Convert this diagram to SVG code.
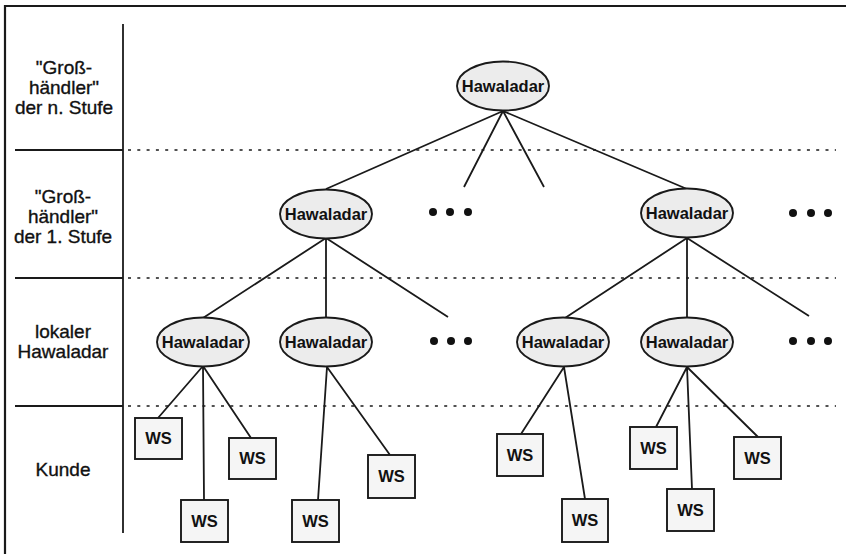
<svg xmlns="http://www.w3.org/2000/svg" width="846" height="554" viewBox="0 0 846 554">
<defs>
<style>
.frame{stroke:#1a1a1a;stroke-width:2.2;fill:none}
.sep{stroke:#1a1a1a;stroke-width:1.8;fill:none}
.dot{stroke:#1a1a1a;stroke-width:1.6;stroke-dasharray:3 6.3;fill:none}
.lbl{font-family:"Liberation Sans",Arial,sans-serif;font-size:19px;fill:#111;stroke:#111;stroke-width:0.35;text-anchor:middle}
.edge{stroke:#1a1a1a;stroke-width:1.8;fill:none}
.ell{fill:#ececec;stroke:#1a1a1a;stroke-width:1.9}
.box{fill:#f5f5f5;stroke:#1a1a1a;stroke-width:1.9}
.nt{font-family:"Liberation Sans",Arial,sans-serif;font-size:16.5px;font-weight:bold;fill:#111;text-anchor:middle}
.dots{fill:#111}
</style>
</defs>
<rect width="846" height="554" fill="#fff"/>
<g id="frame">
<path class="frame" d="M5,554 V6 H846"/>
<path class="sep" d="M123,24 V533"/>
<path class="sep" d="M15,150 H123 M15,278 H123 M15,406 H123"/>
<path class="dot" d="M128,150 H836 M128,278 H836 M128,406 H836"/>
</g>
<g id="labels">
<text class="lbl" x="64" y="74">"Groß-</text>
<text class="lbl" x="64" y="94">händler"</text>
<text class="lbl" x="64" y="114">der n. Stufe</text>
<text class="lbl" x="63" y="203">"Groß-</text>
<text class="lbl" x="63" y="223">händler"</text>
<text class="lbl" x="63" y="243">der 1. Stufe</text>
<text class="lbl" x="63" y="338">lokaler</text>
<text class="lbl" x="63" y="358">Hawaladar</text>
<text class="lbl" x="63" y="476">Kunde</text>
</g>
<g id="connectors">
<path class="edge" d="M503,111 L326,189 M503,111 L464,187 M503,111 L544,187 M503,111 L687,189"/>
<path class="edge" d="M326,238 L203,318 M326,238 L326,318 M326,238 L448,317"/>
<path class="edge" d="M687,238 L565,318 M687,238 L687,318 M687,238 L809,316"/>
<path class="edge" d="M203,366 L158,418 M203,366 L204,500 M203,366 L251,438"/>
<path class="edge" d="M327,367 L318,500 M327,367 L390,455"/>
<path class="edge" d="M564,367 L521,434 M564,367 L585,499"/>
<path class="edge" d="M687,367 L656,427 M687,367 L692,489 M687,367 L758,437"/>
</g>
<g id="n0"><ellipse class="ell" cx="503" cy="86" rx="46" ry="24.5"/><text class="nt" x="503" y="92">Hawaladar</text></g>
<g id="n1"><ellipse class="ell" cx="326" cy="214" rx="46" ry="24.5"/><text class="nt" x="326" y="220">Hawaladar</text></g>
<g id="n2"><ellipse class="ell" cx="687" cy="213" rx="46" ry="24.5"/><text class="nt" x="687" y="219">Hawaladar</text></g>
<g id="n3"><ellipse class="ell" cx="203" cy="342" rx="46" ry="24.5"/><text class="nt" x="203" y="348">Hawaladar</text></g>
<g id="n4"><ellipse class="ell" cx="326" cy="342" rx="46" ry="24.5"/><text class="nt" x="326" y="348">Hawaladar</text></g>
<g id="n5"><ellipse class="ell" cx="563" cy="342" rx="46" ry="24.5"/><text class="nt" x="563" y="348">Hawaladar</text></g>
<g id="n6"><ellipse class="ell" cx="687" cy="342" rx="46" ry="24.5"/><text class="nt" x="687" y="348">Hawaladar</text></g>
<g id="dots1" class="dots"><circle cx="433" cy="212" r="4"/><circle cx="450" cy="212" r="4"/><circle cx="468" cy="212" r="4"/></g>
<g id="dots2" class="dots"><circle cx="793" cy="213" r="4"/><circle cx="811" cy="213" r="4"/><circle cx="828" cy="213" r="4"/></g>
<g id="dots3" class="dots"><circle cx="434" cy="341" r="4"/><circle cx="451" cy="341" r="4"/><circle cx="468" cy="341" r="4"/></g>
<g id="dots4" class="dots"><circle cx="793" cy="341" r="4"/><circle cx="811" cy="341" r="4"/><circle cx="828" cy="341" r="4"/></g>
<g id="ws1"><rect class="box" x="135" y="418" width="47" height="41"/><text class="nt" x="158.5" y="444">WS</text></g>
<g id="ws2"><rect class="box" x="229" y="438" width="47" height="41"/><text class="nt" x="252.5" y="464">WS</text></g>
<g id="ws3"><rect class="box" x="181" y="500" width="47" height="42"/><text class="nt" x="204.5" y="527">WS</text></g>
<g id="ws4"><rect class="box" x="292" y="500" width="47" height="42"/><text class="nt" x="315.5" y="527">WS</text></g>
<g id="ws5"><rect class="box" x="368" y="455" width="47" height="43"/><text class="nt" x="391.5" y="482">WS</text></g>
<g id="ws6"><rect class="box" x="497" y="434" width="46" height="42"/><text class="nt" x="520" y="461">WS</text></g>
<g id="ws7"><rect class="box" x="562" y="499" width="46" height="43"/><text class="nt" x="585" y="526">WS</text></g>
<g id="ws8"><rect class="box" x="630" y="427" width="47" height="42"/><text class="nt" x="653.5" y="454">WS</text></g>
<g id="ws9"><rect class="box" x="667" y="489" width="47" height="42"/><text class="nt" x="690.5" y="516">WS</text></g>
<g id="ws10"><rect class="box" x="734" y="437" width="47" height="42"/><text class="nt" x="757.5" y="464">WS</text></g>
</svg>
